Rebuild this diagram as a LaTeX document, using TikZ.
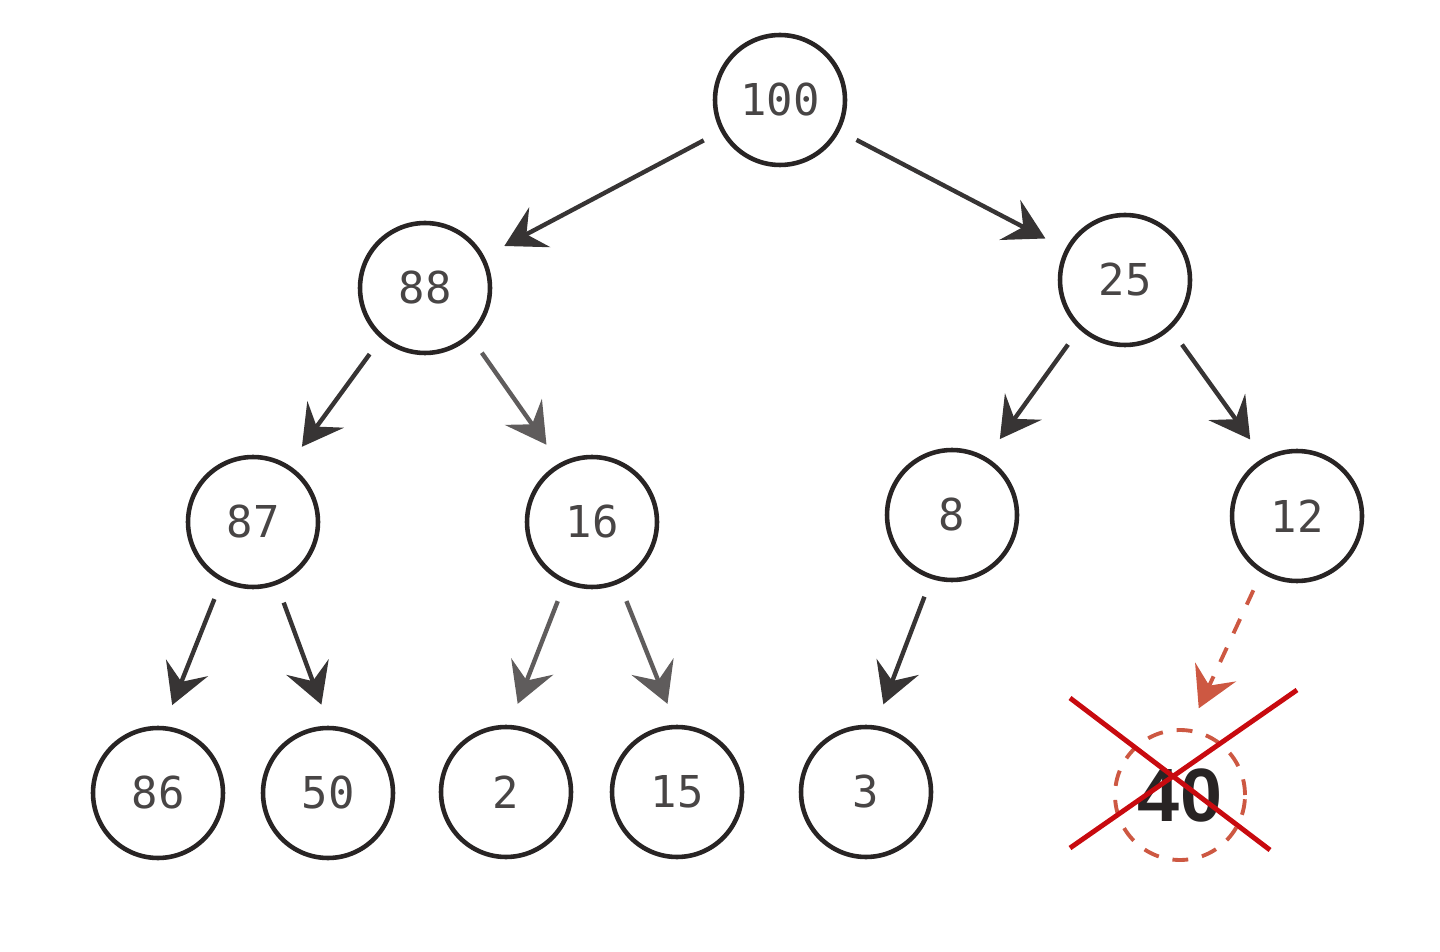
\documentclass[tikz,border=0pt]{standalone}
\usepackage{fontspec}
\setmonofont{DejaVu Sans Mono}
\setsansfont{Liberation Sans}
\usetikzlibrary{arrows.meta}
\definecolor{ink}{RGB}{40,36,36}
\definecolor{arrowgray}{RGB}{55,52,52}
\definecolor{softgray}{RGB}{95,92,92}
\definecolor{dropred}{RGB}{205,88,66}
\definecolor{crossred}{RGB}{200,10,15}

\begin{document}
\begin{tikzpicture}[
    x=0.02cm, y=-0.02cm,
    heap/.style={draw=ink, circle, line width=2.6pt, minimum size=2.6cm, inner sep=0pt,
      font=\ttfamily\fontsize{25}{30}\selectfont, text=ink!85},
    link/.style={-{Stealth[length=0.8cm, width=0.9cm, inset=0.3cm]}, line width=2.5pt, arrowgray,
      shorten <=0.38cm, shorten >=0.45cm},
    removed/.style={draw=dropred, circle, dashed, dash pattern=on 9pt off 8pt, line width=2.2pt,
      minimum size=2.6cm, inner sep=0pt, font=\sffamily\bfseries\fontsize{43}{47}\selectfont, text=ink}
  ]
    \useasboundingbox (0,0) rectangle (1440,952);

    \node[heap] (n100) at (780,100) {100};
    \node[heap] (n88) at (425,288) {88};
    \node[heap] (n25) at (1125,280) {25};
    \node[heap] (n87) at (253,522) {87};
    \node[heap] (n16) at (592,522) {16};
    \node[heap] (n8) at (952,515) {8};
    \node[heap] (n12) at (1297,516) {12};
    \node[heap] (n86) at (158,793) {86};
    \node[heap] (n50) at (328,793) {50};
    \node[heap] (n2) at (506,792) {2};
    \node[heap] (n15) at (677,792) {15};
    \node[heap] (n3) at (866,792) {3};
    \node[removed] (n40) at (1180,795) {40};

    \draw[link] (n100) -- (n88);
    \draw[link] (n100) -- (n25);
    \draw[link] (n88.-131) -- (n87.58);
    \draw[link, softgray] (n88.-47) -- (n16.119);
    \draw[link] (n25.-133) -- (n8.59);
    \draw[link] (n25.-47) -- (n12.120);
    \draw[link] (n87.-118) -- (n86.85);
    \draw[link] (n87.-69) -- (n50.89);
    \draw[link, softgray] (n16.-114) -- (n2.87);
    \draw[link, softgray] (n16.-66) -- (n15.91);
    \draw[link] (n8.-108) -- (n3.82);
    \draw[link, dropred, line width=2.2pt, dashed, dash pattern=on 9pt off 9pt] (n12.-122) -- (n40.82);

    % crossed out
    \draw[crossred, line width=2.8pt] ([shift={(-110,-97)}]n40.center) -- ([shift={(90,55)}]n40.center);
    \draw[crossred, line width=2.8pt] ([shift={(117,-105)}]n40.center) -- ([shift={(-110,53)}]n40.center);
\end{tikzpicture}
\end{document}
